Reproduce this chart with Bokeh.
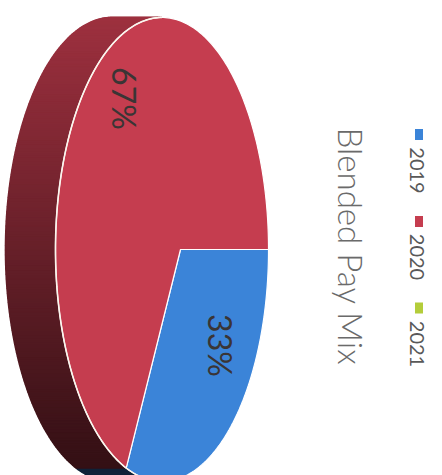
import numpy as np
from bokeh.plotting import figure
from bokeh.models import Range1d
from bokeh.core.properties import value
from bokeh.embed import file_html
from bokeh.resources import INLINE

# ---- data ----
categories = ["2019", "2020", "2021"]
shares = [33, 67, 0]
slice_labels = ["33%", "67%", ""]
colors = ["#3b84d8", "#c53d4f", "#b4cd3a"]
chart_title = "Blended Pay Mix"

# ---- layout (pixel space, image y measured downward) ----
W, H = 442, 475
CX, CY = 180.0, 249.0      # projected pie centre
RX, RY = 103.3, 228.5      # projected radii
K = 0.1737                 # perspective factor
DEPTH = 50.0               # visible thickness of the pie
LABEL_POS = {"33%": (220, 345), "67%": (124, 98)}
TITLE_POS = (350, 246)
LEG_SQ_X = 418.5
LEG_SQ_Y = [134, 221, 307.5]
LEG_TX_X = 416
LEG_TX_Y = [170, 256.5, 343.5]


def proj(phi, r=1.0, shift=0.0):
    u = r * np.sin(phi)
    v = r * np.cos(phi)
    w = 1 + K * v
    x = CX + RX * v / w - shift
    y = CY + RY * u / w
    return x, H - y


def shade(hex_color, f):
    h = hex_color.lstrip("#")
    r, g, b = (int(h[i:i + 2], 16) for i in (0, 2, 4))
    return "#%02x%02x%02x" % (int(r * f), int(g * f), int(b * f))


p = figure(width=W, height=H, x_range=Range1d(0, W), y_range=Range1d(0, H),
           output_backend="svg", toolbar_location=None, min_border=0)
p.axis.visible = False
p.grid.visible = False
p.outline_line_color = None
p.background_fill_color = "white"
p.border_fill_color = "white"

total = float(sum(shares))
edges = np.concatenate([[0.0], np.cumsum(shares)]) / total * 2 * np.pi

# ---- side of the pie (visible near half) ----
ph1 = np.arccos(-K)
ph2 = 2 * np.pi - ph1
sx, sy, sc = [], [], []
for j, s in enumerate(shares):
    if s <= 0:
        continue
    a, b = max(edges[j], ph1), min(edges[j + 1], ph2)
    if b <= a:
        continue
    n = max(2, int((b - a) / np.radians(1.0)))
    ph = np.linspace(a, b, n + 1)
    for i in range(n):
        x1, y1 = proj(ph[i])
        x2, y2 = proj(ph[i + 1])
        x3, y3 = proj(ph[i + 1], shift=DEPTH)
        x4, y4 = proj(ph[i], shift=DEPTH)
        ymid_img = H - (y1 + y2) / 2
        f = float(np.clip(0.8 - 0.55 * (ymid_img - 17) / 460, 0.26, 0.85))
        sx.append([x1, x2, x3, x4])
        sy.append([y1, y2, y3, y4])
        sc.append(shade(colors[j], f))
p.patches(sx, sy, fill_color=sc, line_color=sc, line_width=1.6)

# ---- top face ----
tx, ty, tc = [], [], []
for j, s in enumerate(shares):
    if s <= 0:
        continue
    ph = np.linspace(edges[j], edges[j + 1], 200)
    ax, ay = proj(ph)
    cx0, cy0 = proj(0.0, r=0.0)
    tx.append([cx0] + list(ax))
    ty.append([cy0] + list(ay))
    tc.append(colors[j])
p.patches(tx, ty, fill_color=tc, line_color="white", line_width=1.2)

# rim highlight on the near edge
rph = np.linspace(ph1, ph2, 200)
rx, ry = proj(rph)
p.line(rx, ry, line_color="#fbf6ee", line_width=1.6)

# ---- slice labels ----
for lab in slice_labels:
    if not lab:
        continue
    lx, ly = LABEL_POS[lab]
    p.text(x=[lx], y=[H - ly], text=[lab], angle=-np.pi / 2,
           text_align="center", text_baseline="middle",
           text_font=value("Lato"), text_font_size="32px", text_color="#3a3535")

# ---- title ----
p.text(x=[TITLE_POS[0]], y=[H - TITLE_POS[1]], text=[chart_title], angle=-np.pi / 2,
       text_align="center", text_baseline="middle",
       text_font=value("Lato Light"), text_font_size="33px", text_color="#6a6a6a")

# ---- legend ----
p.rect(x=[LEG_SQ_X] * len(categories), y=[H - v for v in LEG_SQ_Y],
       width=8, height=11, fill_color=colors, line_color=None)
p.text(x=[LEG_TX_X] * len(categories), y=[H - v for v in LEG_TX_Y], text=categories,
       angle=-np.pi / 2, text_align="center", text_baseline="middle",
       text_font=value("Lato"), text_font_size="20px", text_color="#595959")

open("out.html", "w").write(file_html(p, INLINE))
